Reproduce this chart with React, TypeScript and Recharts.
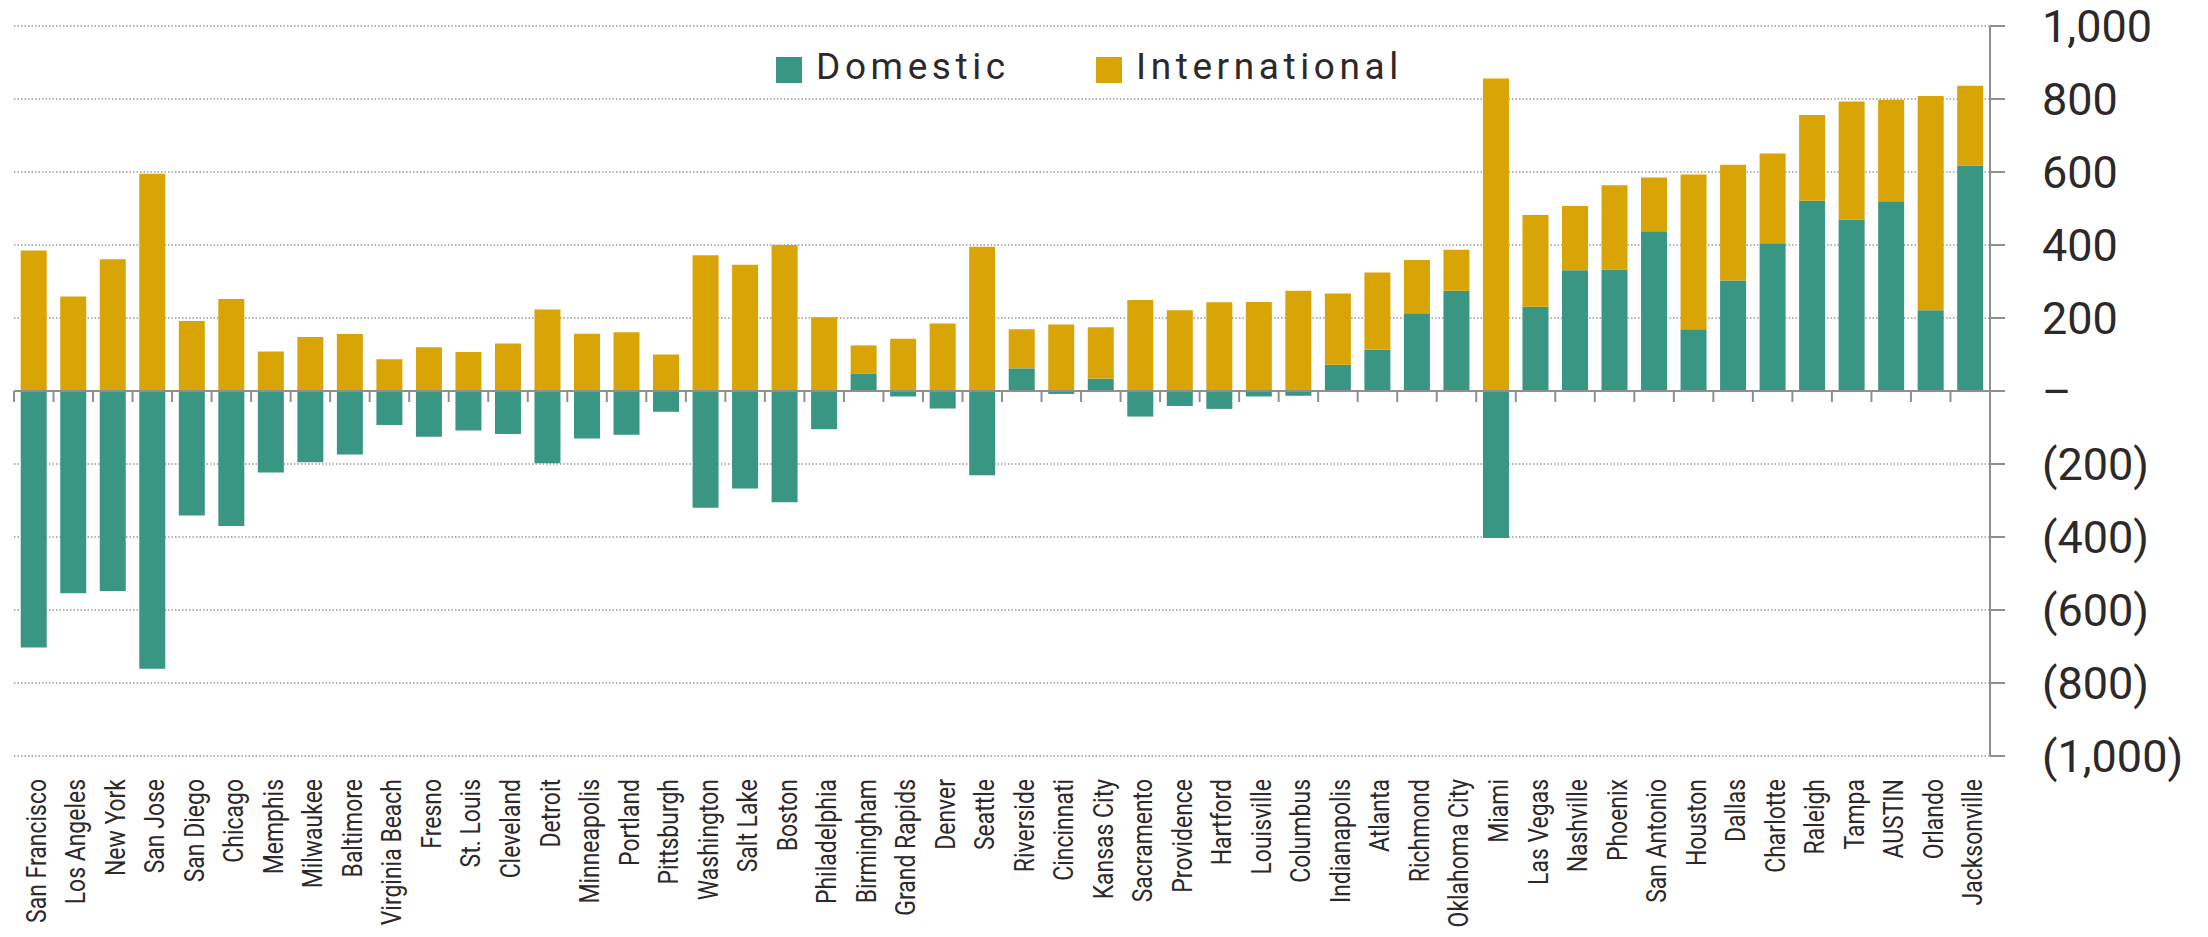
import React from "react";
import {
  BarChart,
  Bar,
  XAxis,
  YAxis,
  CartesianGrid,
  ReferenceLine,
  Legend,
} from "recharts";

const cities = [
  "San Francisco", "Los Angeles", "New York", "San Jose", "San Diego", "Chicago",
  "Memphis", "Milwaukee", "Baltimore", "Virginia Beach", "Fresno", "St. Louis",
  "Cleveland", "Detroit", "Minneapolis", "Portland", "Pittsburgh", "Washington",
  "Salt Lake", "Boston", "Philadelphia", "Birmingham", "Grand Rapids", "Denver",
  "Seattle", "Riverside", "Cincinnati", "Kansas City", "Sacramento", "Providence",
  "Hartford", "Louisville", "Columbus", "Indianapolis", "Atlanta", "Richmond",
  "Oklahoma City", "Miami", "Las Vegas", "Nashville", "Phoenix", "San Antonio",
  "Houston", "Dallas", "Charlotte", "Raleigh", "Tampa", "AUSTIN", "Orlando",
  "Jacksonville",
];

const domestic = [
  -703, -554, -548, -761, -341, -370, -223, -195, -174, -93, -125, -108, -118,
  -198, -130, -120, -57, -320, -267, -305, -105, 48, -15, -48, -231, 62, -8, 34,
  -70, -41, -49, -15, -13, 72, 113, 213, 275, -403, 231, 331, 333, 438, 169, 303,
  405, 521, 470, 520, 221, 618,
];

const international = [
  385, 259, 361, 595, 192, 252, 108, 148, 156, 87, 120, 107, 130, 223, 157, 161,
  100, 372, 346, 400, 202, 77, 143, 185, 395, 107, 182, 141, 249, 221, 243, 244,
  275, 195, 212, 146, 112, 856, 251, 176, 231, 147, 424, 317, 246, 235, 323, 278,
  587, 218,
];

const yTicks = [-1000, -800, -600, -400, -200, 0, 200, 400, 600, 800, 1000];

const TEAL = "#389683";
const GOLD = "#d9a406";
const AXIS = "#8f8f8f";
const TEXT = "#2d2829";

const data = cities.map((city, i) => ({
  city,
  domestic: domestic[i],
  international: international[i],
}));

const fmt = (v: number) => {
  if (v === 0) return "–";
  const s = Math.abs(v).toLocaleString("en-US");
  return v < 0 ? `(${s})` : s;
};

// rotated city names, squeezed along the text direction to look condensed
function CityTick(props: any) {
  const { x, y, payload } = props;
  return (
    <text
      transform={`translate(${x + 12}, ${y + 23}) rotate(-90) scale(0.82, 1)`}
      textAnchor="end"
      fontSize={28}
      fontFamily="Roboto, sans-serif"
      fill={TEXT}
    >
      {payload.value}
    </text>
  );
}

// zero line with the small category-boundary ticks below it
function ZeroAxis(props: any) {
  const { x1, x2, y1 } = props;
  const n = cities.length;
  const step = (x2 - x1) / n;
  const marks = [];
  for (let i = 0; i <= n; i++) {
    const x = x1 + i * step;
    marks.push(
      <line key={i} x1={x} x2={x} y1={y1} y2={y1 + 11} stroke={AXIS} strokeWidth={2} />
    );
  }
  return (
    <g>
      <line x1={x1} x2={x2} y1={y1} y2={y1} stroke={AXIS} strokeWidth={2} />
      {marks}
    </g>
  );
}

function LegendBox() {
  const items = [
    { name: "Domestic", color: TEAL, w: 320 },
    { name: "International", color: GOLD, w: 340 },
  ];
  return (
    <div style={{ display: "flex", alignItems: "center", height: 30 }}>
      {items.map((it) => (
        <div key={it.name} style={{ display: "flex", alignItems: "center", width: it.w }}>
          <span style={{ width: 26, height: 26, background: it.color, display: "inline-block" }} />
          <span
            style={{
              marginLeft: 14,
              fontFamily: "Roboto, sans-serif",
              fontSize: 37,
              letterSpacing: 4.6,
              color: TEXT,
              position: "relative",
              top: -4,
              whiteSpace: "nowrap",
            }}
          >
            {it.name}
          </span>
        </div>
      ))}
    </div>
  );
}

export default function App() {
  return (
    <div style={{ position: "absolute", left: 0, top: 0, background: "#fff" }}>
      <BarChart
        width={2208}
        height={937}
        data={data}
        stackOffset="sign"
        barCategoryGap="17%"
        margin={{ top: 26, right: 0, bottom: 0, left: 14 }}
      >
        <CartesianGrid
          vertical={false}
          stroke="#9a9a9a"
          strokeWidth={1.5}
          strokeDasharray="1.5 2"
        />
        <XAxis
          dataKey="city"
          interval={0}
          height={181}
          axisLine={false}
          tickLine={false}
          tickSize={0}
          tickMargin={0}
          tick={<CityTick />}
        />
        <YAxis
          orientation="right"
          width={218}
          domain={[-1000, 1000]}
          ticks={yTicks}
          interval={0}
          tickSize={15}
          tickMargin={37}
          tickFormatter={fmt}
          axisLine={{ stroke: AXIS, strokeWidth: 2 }}
          tickLine={{ stroke: AXIS, strokeWidth: 2 }}
          tick={{ fill: TEXT, fontSize: 45, fontFamily: "Roboto, sans-serif" }}
        />
        <Bar dataKey="domestic" stackId="a" fill={TEAL} isAnimationActive={false} />
        <Bar dataKey="international" stackId="a" fill={GOLD} isAnimationActive={false} />
        <ReferenceLine y={0} shape={ZeroAxis} />
        <Legend
          layout="horizontal"
          verticalAlign="middle"
          align="center"
          wrapperStyle={{ top: 55, left: 776, width: 700, height: 30 }}
          content={() => <LegendBox />}
        />
      </BarChart>
    </div>
  );
}
